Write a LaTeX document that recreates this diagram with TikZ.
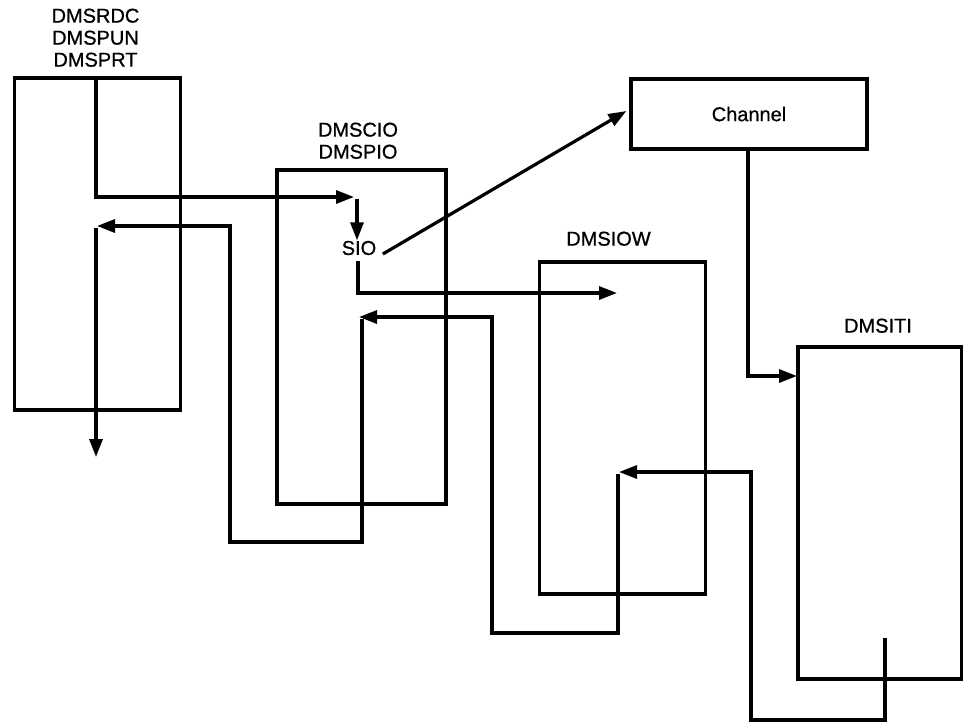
\documentclass[tikz,border=0pt]{standalone}
\usepackage{fontspec}
\setmainfont[FakeBold=0.8]{Liberation Sans}
\usepackage{tikz}
\usetikzlibrary{arrows.meta,positioning}

\begin{document}
\begin{tikzpicture}[x=1pt,y=-1pt,line width=3.2pt,>={Triangle[length=18pt,width=13pt]},
modbox/.style={draw,inner sep=0pt,minimum width=166pt,minimum height=332pt},
lbl/.style={font=\fontsize{20}{22}\selectfont,align=center,inner sep=0pt}]
\useasboundingbox (0,0) rectangle (963,724);
% the four routines and the channel
\node[modbox](rdc) at (97.5,244){};
\node[modbox,minimum width=169pt,minimum height=334pt](cio) at (361.5,337){};
\node[modbox](iow) at (622.5,428){};
\node[modbox,minimum width=164pt](iti) at (880,513){};
\node[modbox,minimum width=236pt,minimum height=70pt,lbl](ch) at (749,114){Channel};
\node[lbl,above=8pt of rdc,xshift=-2pt](rdclbl){DMSRDC\\DMSPUN\\DMSPRT};
\node[lbl,above=8pt of cio,xshift=-3.5pt](ciolbl){DMSCIO\\DMSPIO};
\node[lbl,above=13pt of iow,xshift=-14pt](iowlbl){DMSIOW};
\node[lbl,above=11pt of iti,xshift=-2pt](itilbl){DMSITI};
\node[lbl,inner sep=3pt](sio) at (359,248){SIO};
% points the flow passes through
\coordinate (rdcout) at (96,80);
\coordinate (cioin) at (354,197);
\coordinate (siotop) at (357,199);
\coordinate (siobot) at (358,261);
\coordinate (iowin) at (617,293);
\coordinate (chbot) at (748,151);
\coordinate (itiin) at (797,376);
\coordinate (itiout) at (885,638);
\coordinate (itidown) at (885,720);
\coordinate (itiret) at (751,720);
\coordinate (iowret) at (619,472);
\coordinate (iowout) at (618,474);
\coordinate (iowdown) at (618,633);
\coordinate (iowleft) at (492,633);
\coordinate (cioret) at (359,317);
\coordinate (cioout) at (362,319);
\coordinate (ciodown) at (362,542);
\coordinate (cioleft) at (230,542);
\coordinate (rdcret) at (97,226);
\coordinate (rdcback) at (96,228);
\coordinate (rdcend) at (96,457);
% start I/O
\draw[->] (rdcout) |- (cioin);
\draw[->] (siotop) -- ([yshift=-4pt]sio.north -| siotop);
\draw[->] ([xshift=2pt,yshift=-6pt]sio.east) -- ([xshift=-3pt,yshift=3pt]ch.west);
\draw[->] (siobot) |- (iowin);
% interrupt
\draw[->] (chbot) |- (itiin);
\draw[->] (itiout) -- (itidown) -- (itiret) |- (iowret);
% return
\draw[->] (iowout) -- (iowdown) -- (iowleft) |- (cioret);
\draw[->] (cioout) -- (ciodown) -- (cioleft) |- (rdcret);
\draw[->] (rdcback) -- (rdcend);
\end{tikzpicture}
\end{document}
